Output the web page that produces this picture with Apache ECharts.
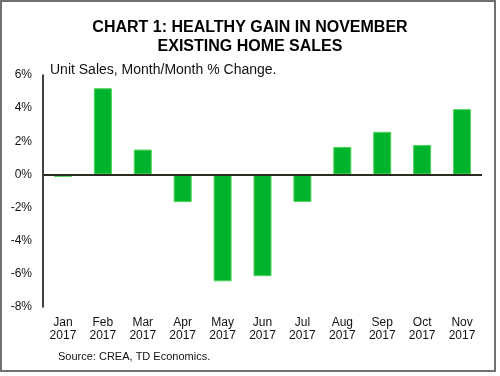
<!DOCTYPE html>
<html>
<head>
<meta charset="utf-8">
<script src="https://cdn.jsdelivr.net/npm/echarts@6/dist/echarts.min.js"></script>
<style>
  html, body { margin: 0; padding: 0; background: #fff; }
  #chart { width: 500px; height: 376px; }
</style>
</head>
<body>
<div id="chart"></div>
<script>
// data
const months = ['Jan', 'Feb', 'Mar', 'Apr', 'May', 'Jun', 'Jul', 'Aug', 'Sep', 'Oct', 'Nov']
const years = ['2017', '2017', '2017', '2017', '2017', '2017', '2017', '2017', '2017', '2017', '2017']
const salesChange = [-0.15, 5.2, 1.5, -1.67, -6.45, -6.14, -1.66, 1.66, 2.57, 1.78, 3.94]

const categories = months.map((m, i) => m + '\n' + years[i])

const chart = echarts.init(document.getElementById('chart'), null, { renderer: 'canvas' })

const option = {
  animation: false,
  backgroundColor: '#fff',
  textStyle: { fontFamily: 'Liberation Sans, Arial, sans-serif' },
  title: {
    text: 'CHART 1: HEALTHY GAIN IN NOVEMBER\nEXISTING HOME SALES',
    left: 'center',
    top: 13,
    textStyle: {
      fontSize: 16,
      fontWeight: 'bold',
      color: '#000',
      lineHeight: 19,
      fontFamily: 'Liberation Sans, Arial, sans-serif'
    }
  },
  // frame and small notes
  graphic: [
    {
      type: 'rect',
      shape: { x: 1, y: 1, width: 494, height: 370 },
      style: { fill: 'none', stroke: '#707070', lineWidth: 2 },
      silent: true
    },
    {
      type: 'text',
      left: 50,
      top: 63,
      style: { text: 'Unit Sales, Month/Month % Change.', fontSize: 14, fill: '#111', fontFamily: 'Liberation Sans, Arial, sans-serif' }
    },
    {
      type: 'text',
      left: 58,
      top: 351,
      style: { text: 'Source: CREA, TD Economics.', fontSize: 11, fill: '#111', fontFamily: 'Liberation Sans, Arial, sans-serif' }
    }
  ],
  grid: { left: 43, right: 18, top: 75, bottom: 69 },
  xAxis: {
    type: 'category',
    data: categories,
    axisLine: { show: false, onZero: false },
    axisTick: { show: false },
    axisLabel: { color: '#111', fontSize: 12, lineHeight: 13, margin: 9, interval: 0 }
  },
  yAxis: {
    type: 'value',
    min: -8,
    max: 6,
    interval: 2,
    axisLine: { show: true, lineStyle: { color: '#000', width: 1.5 } },
    axisTick: { show: false },
    splitLine: { show: false },
    axisLabel: { color: '#111', fontSize: 12, margin: 11, formatter: '{value}%' }
  },
  series: [
    {
      type: 'bar',
      data: salesChange,
      barWidth: 18,
      itemStyle: { color: '#00b32c', borderColor: '#4cd45a', borderWidth: 1 },
      markLine: {
        silent: true,
        symbol: 'none',
        label: { show: false },
        lineStyle: { color: '#2b2b20', width: 2, type: 'solid' },
        data: [{ yAxis: 0 }]
      }
    }
  ]
}

chart.setOption(option)
</script>
</body>
</html>
